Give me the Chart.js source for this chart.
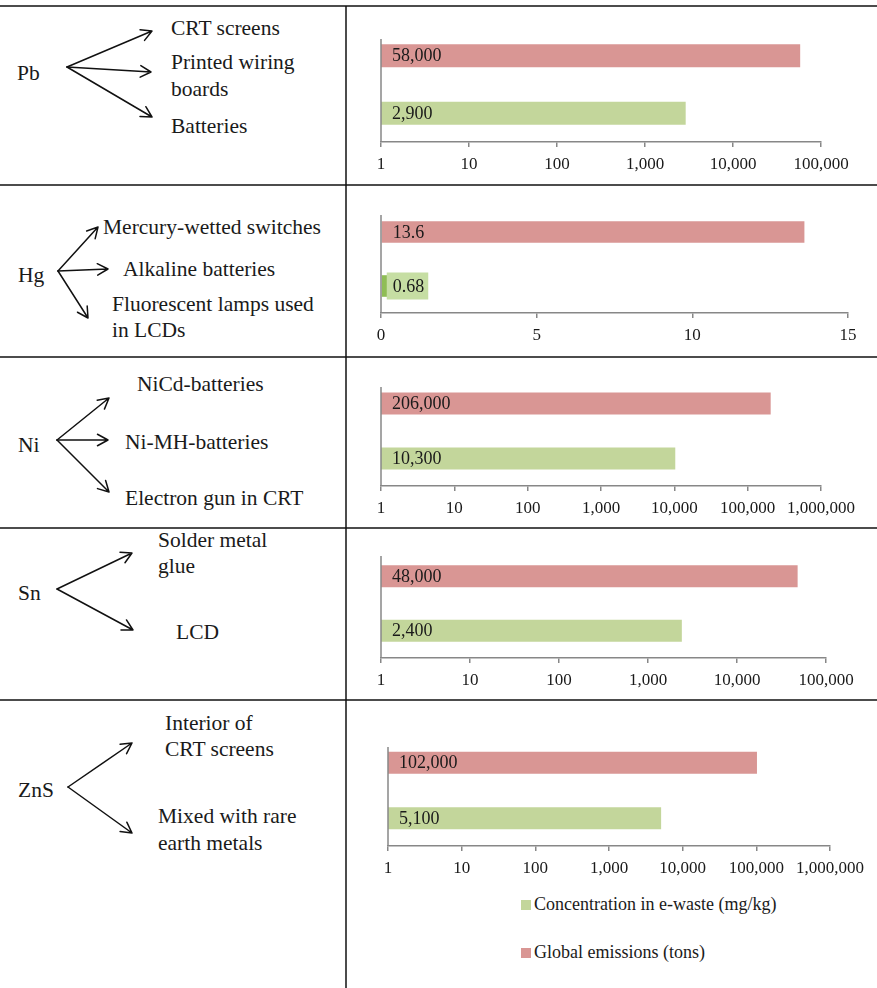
<!DOCTYPE html>
<html>
<head>
<meta charset="utf-8">
<script src="https://cdn.jsdelivr.net/npm/chart.js@4.4.1/dist/chart.umd.min.js"></script>
<style>
  html, body { margin: 0; padding: 0; background: #fff; }
  #page { position: relative; width: 877px; height: 988px; overflow: hidden;
          font-family: "Liberation Serif", "Times New Roman", serif; color: #1a1a1a; }
  #page svg { position: absolute; left: 0; top: 0; }
  #page canvas { position: absolute; }
  .legend-item { position: absolute; height: 20px; line-height: 20px; font-size: 18px; white-space: nowrap; }
  .legend-item i { display: inline-block; width: 10px; height: 10px; margin-right: 3px; vertical-align: 0px; }
</style>
</head>
<body>
<div id="page">
  <svg id="table" width="877" height="988"></svg>
</div>
<script>
// ---- data ----
const metals = ['Pb', 'Hg', 'Ni', 'Sn', 'ZnS'];
const seriesNames = ['Concentration in e-waste (mg/kg)', 'Global emissions (tons)'];
const concentration = [2900, 0.68, 10300, 2400, 5100];
const emissions = [58000, 13.6, 206000, 48000, 102000];
const axisTicks = [
  [1, 10, 100, 1000, 10000, 100000],
  [0, 5, 10, 15],
  [1, 10, 100, 1000, 10000, 100000, 1000000],
  [1, 10, 100, 1000, 10000, 100000],
  [1, 10, 100, 1000, 10000, 100000, 1000000]
];
const axisTypes = ['logarithmic', 'linear', 'logarithmic', 'logarithmic', 'logarithmic'];
const uses = [
  ['CRT screens', 'Printed wiring', 'boards', 'Batteries'],
  ['Mercury-wetted switches', 'Alkaline batteries', 'Fluorescent lamps used', 'in LCDs'],
  ['NiCd-batteries', 'Ni-MH-batteries', 'Electron gun in CRT'],
  ['Solder metal', 'glue', 'LCD'],
  ['Interior of', 'CRT screens', 'Mixed with rare', 'earth metals']
];

// ---- colours ----
const RED = '#d99694';
const GREEN = '#c3d69b';
const AXIS = '#878787';
const INK = '#1a1a1a';
const SERIF = '"Liberation Serif", "Times New Roman", serif';

// ---- left column layout: label position, text positions, arrow fan ----
const leftLayout = [
  { label: [17, 80], text: [[171, 35], [171, 69], [171, 96], [171, 133]],
    origin: [67, 67], tips: [[152, 31], [151, 72], [152, 117]] },
  { label: [18, 282], text: [[103, 234], [123, 276], [112, 311], [112, 337]],
    origin: [58, 271], tips: [[98, 227], [108, 269], [88, 318]] },
  { label: [18, 452], text: [[137, 391], [125, 449], [125, 505]],
    origin: [57, 440], tips: [[109, 398], [108, 440], [109, 492]] },
  { label: [18, 600], text: [[158, 547], [158, 573], [176, 639]],
    origin: [57, 589], tips: [[132, 553], [133, 630]] },
  { label: [18, 797], text: [[165, 730], [165, 756], [158, 823], [158, 850]],
    origin: [68, 787], tips: [[132, 743], [132, 833]] }
];
const rowLines = [6, 185, 357, 528, 700];
const dividerX = 346;

// ---- chart panel layout ----
const panels = [
  { top: 27,  axisY: 142, left: 381, right: 821, lineTop: 39 },
  { top: 205, axisY: 313, left: 381, right: 848, lineTop: 215, boxedLabel: true },
  { top: 376, axisY: 486, left: 381, right: 821, lineTop: 387 },
  { top: 549, axisY: 658, left: 381, right: 826, lineTop: 556 },
  { top: 735, axisY: 846, left: 388, right: 830, lineTop: 747 }
];
const canvasLeft = 350, canvasWidth = 527, xAxisHeight = 42;

// ---- table grid, arrows and text ----
const svgNS = 'http://www.w3.org/2000/svg';
const svg = document.getElementById('table');
function el(name, attrs, text) {
  const e = document.createElementNS(svgNS, name);
  for (const k in attrs) e.setAttribute(k, attrs[k]);
  if (text !== undefined) e.textContent = text;
  svg.appendChild(e);
  return e;
}
rowLines.forEach(y => el('line', { x1: 0, x2: 877, y1: y, y2: y, stroke: '#111', 'stroke-width': 1.5 }));
el('line', { x1: dividerX, x2: dividerX, y1: rowLines[0], y2: 988, stroke: '#111', 'stroke-width': 1.5 });

function arrow(o, t) {
  const ang = Math.atan2(t[1] - o[1], t[0] - o[0]);
  const len = 12, spread = 0.5;
  const a1 = [t[0] - len * Math.cos(ang - spread), t[1] - len * Math.sin(ang - spread)];
  const a2 = [t[0] - len * Math.cos(ang + spread), t[1] - len * Math.sin(ang + spread)];
  el('path', {
    d: `M${o[0]},${o[1]} L${t[0]},${t[1]} M${a1[0]},${a1[1]} L${t[0]},${t[1]} L${a2[0]},${a2[1]}`,
    stroke: '#111', 'stroke-width': 1.5, fill: 'none', 'stroke-linecap': 'round', 'stroke-linejoin': 'round'
  });
}
metals.forEach((m, i) => {
  const L = leftLayout[i];
  el('text', { x: L.label[0], y: L.label[1], 'font-family': SERIF, 'font-size': 21.5, fill: INK }, m);
  uses[i].forEach((u, k) => el('text', { x: L.text[k][0], y: L.text[k][1], 'font-family': SERIF, 'font-size': 21.5, fill: INK }, u));
  L.tips.forEach(t => arrow(L.origin, t));
});

// ---- plugins ----
const valueLabels = {
  id: 'valueLabels',
  afterDatasetsDraw(chart, args, opts) {
    const ctx = chart.ctx;
    ctx.save();
    ctx.font = '18px ' + SERIF;
    ctx.textBaseline = 'middle';
    ctx.textAlign = 'left';
    chart.data.datasets.forEach((ds, i) => {
      chart.getDatasetMeta(i).data.forEach((bar, j) => {
        const v = ds.data[j];
        if (v === null || v === undefined) return;
        const text = v.toLocaleString('en-US');
        const x = bar.base + 11;
        if (opts.boxed && ds.labelBox) {
          const w = ctx.measureText(text).width;
          ctx.fillStyle = ds.labelBox;
          ctx.fillRect(x - 6, bar.y - 13.5, w + 10, 27);
        }
        ctx.fillStyle = INK;
        ctx.fillText(text, x, bar.y + 1);
      });
    });
    ctx.restore();
  }
};
const valueAxisLine = {
  id: 'valueAxisLine',
  afterDraw(chart, args, opts) {
    const ctx = chart.ctx, a = chart.chartArea;
    ctx.save();
    ctx.strokeStyle = AXIS;
    ctx.lineWidth = 1.5;
    ctx.beginPath();
    ctx.moveTo(a.left, opts.top);
    ctx.lineTo(a.left, a.bottom);
    ctx.stroke();
    ctx.restore();
  }
};

// ---- charts ----
const page = document.getElementById('page');
metals.forEach((m, i) => {
  const P = panels[i];
  const cv = document.createElement('canvas');
  const h = P.axisY - P.top + xAxisHeight;
  cv.width = canvasWidth; cv.height = h;
  cv.style.left = canvasLeft + 'px';
  cv.style.top = P.top + 'px';
  cv.style.width = canvasWidth + 'px';
  cv.style.height = h + 'px';
  page.appendChild(cv);

  const ticks = axisTicks[i];
  new Chart(cv, {
    type: 'bar',
    data: {
      labels: ['emissions', 'concentration'],
      datasets: [
        { label: seriesNames[0], data: [null, concentration[i]],
          backgroundColor: P.boxedLabel ? '#8fbd55' : GREEN, labelBox: '#c6dea3' },
        { label: seriesNames[1], data: [emissions[i], null], backgroundColor: RED }
      ]
    },
    options: {
      indexAxis: 'y',
      responsive: false,
      animation: false,
      devicePixelRatio: 1,
      skipNull: true,
      categoryPercentage: 0.8,
      barPercentage: 0.5,
      layout: { padding: { left: P.left - canvasLeft, right: canvasLeft + canvasWidth - P.right, top: 0, bottom: 0 } },
      plugins: {
        legend: { display: false },
        tooltip: { enabled: false },
        valueLabels: { boxed: !!P.boxedLabel },
        valueAxisLine: { top: P.lineTop - P.top }
      },
      scales: {
        x: {
          type: axisTypes[i],
          min: ticks[0],
          max: ticks[ticks.length - 1],
          afterBuildTicks: s => { s.ticks = ticks.map(v => ({ value: v })); },
          afterFit: s => { s.height = xAxisHeight; s.paddingLeft = 0; s.paddingRight = 0; },
          ticks: {
            autoSkip: false, maxRotation: 0, minRotation: 0, padding: 7,
            color: INK, font: { family: SERIF, size: 17 },
            callback: v => Number(v).toLocaleString('en-US')
          },
          grid: { drawOnChartArea: false, drawTicks: true, tickLength: 5, color: AXIS, lineWidth: 1.5 },
          border: { display: true, color: AXIS, width: 1.5 }
        },
        y: {
          ticks: { display: false },
          grid: { display: false, drawTicks: false },
          border: { display: false },
          afterFit: s => { s.width = 0; s.paddingTop = 0; s.paddingBottom = 0; }
        }
      }
    },
    plugins: [valueLabels, valueAxisLine]
  });
});

// ---- legend (below the last panel) ----
const legendPos = [[521, 894], [521, 942]];
const legendColors = [GREEN, RED];
seriesNames.forEach((name, k) => {
  const d = document.createElement('div');
  d.className = 'legend-item';
  d.style.left = legendPos[k][0] + 'px';
  d.style.top = legendPos[k][1] + 'px';
  const sw = document.createElement('i');
  sw.style.background = legendColors[k];
  d.appendChild(sw);
  d.appendChild(document.createTextNode(name));
  page.appendChild(d);
});
</script>
</body>
</html>
